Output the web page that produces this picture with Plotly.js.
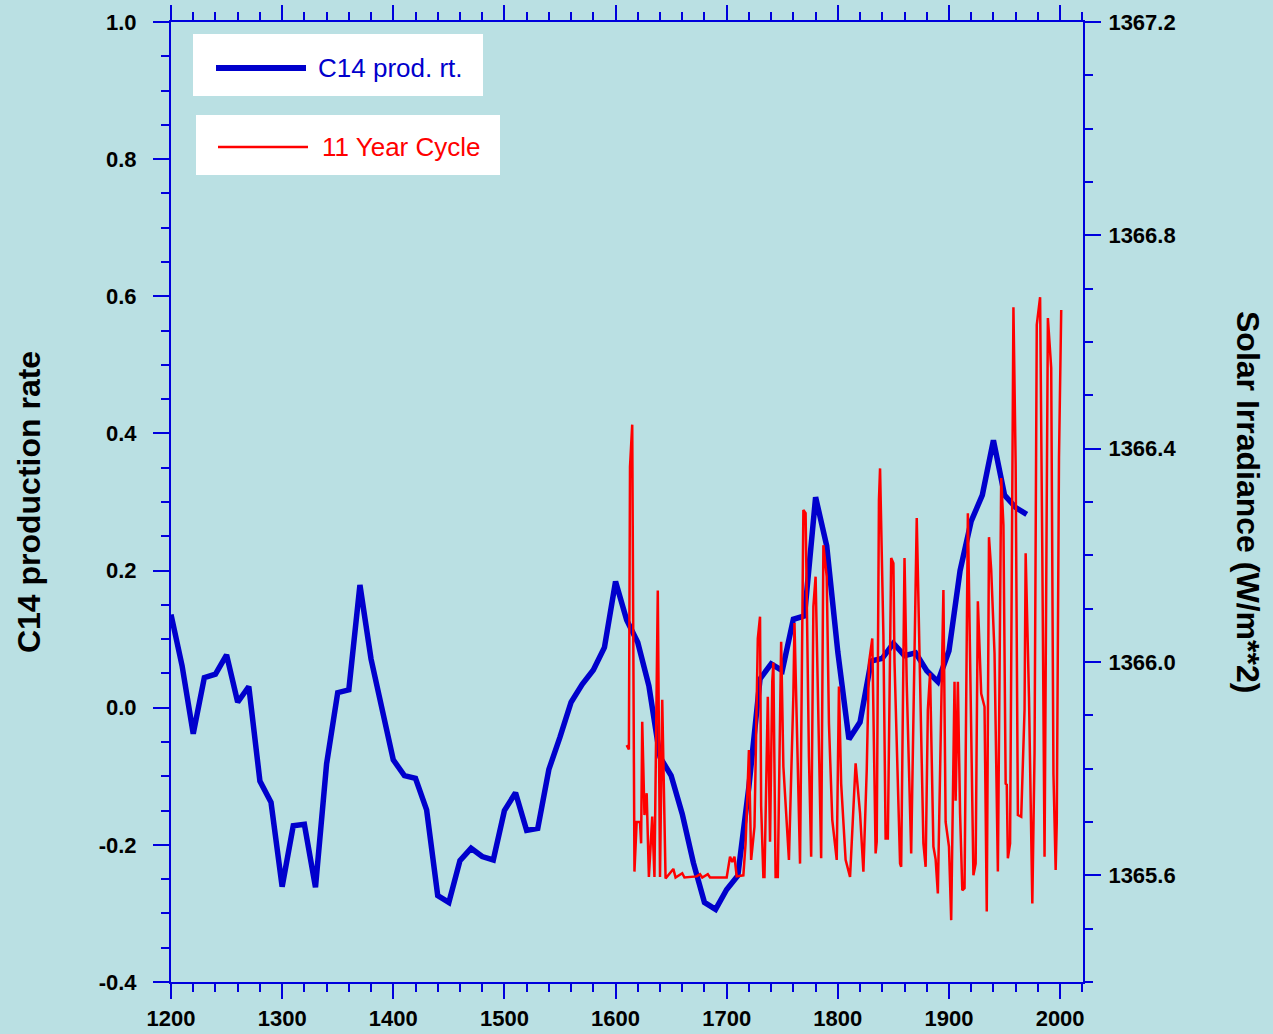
<!DOCTYPE html>
<html>
<head>
<meta charset="utf-8">
<script src="https://cdn.plot.ly/plotly-3.0.1.min.js"></script>
<style>
  html, body { margin: 0; padding: 0; background: #BAE0E3; }
  #chart { width: 1273px; height: 1034px; }
</style>
</head>
<body>
<div id="chart"></div>
<script>
// ---- Data ----
const c14Years = [1200,1210,1220,1230,1240,1250,1260,1270,1280,1290,
  1300,1310,1320,1330,1340,1350,1360,1370,1380,1390,
  1400,1410,1420,1430,1440,1450,1460,1470,1480,1490,
  1500,1510,1520,1530,1540,1550,1560,1570,1580,1590,
  1600,1610,1620,1630,1640,1650,1660,1670,1680,1690,
  1700,1710,1720,1730,1740,1750,1760,1770,1780,1790,
  1800,1810,1820,1830,1840,1850,1860,1870,1880,1890,
  1900,1910,1920,1930,1940,1950,1960,1970];
const c14Values = [0.136,0.061,-0.038,0.044,0.049,0.077,0.008,0.031,-0.107,-0.138,
  -0.261,-0.172,-0.170,-0.262,-0.082,0.022,0.026,0.179,0.071,-0.007,
  -0.076,-0.099,-0.103,-0.149,-0.274,-0.284,-0.223,-0.205,-0.217,-0.222,
  -0.150,-0.124,-0.179,-0.176,-0.090,-0.043,0.008,0.034,0.055,0.088,
  0.184,0.128,0.095,0.032,-0.072,-0.099,-0.155,-0.226,-0.284,-0.294,
  -0.265,-0.245,-0.115,0.042,0.064,0.054,0.129,0.134,0.307,0.236,
  0.081,-0.046,-0.021,0.068,0.072,0.094,0.076,0.080,0.054,0.038,
  0.083,0.200,0.272,0.310,0.390,0.310,0.292,0.282];

const irrYears = [1610,1612,1613,1615,1617,1619,1622,1623,1624,1626,
  1628,1630,1633,1635,1638,1640,1642,1644,1645,1652,
  1654,1660,1662,1673,1676,1678,1683,1685,1700,1703,
  1705,1707,1709,1715,1717,1718,1720,1722,1725,1728,
  1730,1731,1733,1734,1737,1739,1741,1742,1744,1746,
  1749,1751,1756,1760,1761,1766,1769,1771,1774,1776,
  1778,1780,1785,1787,1790,1792,1795,1799,1801,1803,
  1807,1811,1816,1820,1823,1826,1828,1831,1834,1835,
  1837,1838,1840,1841,1843,1845,1848,1850,1851,1856,
  1857,1860,1862,1866,1871,1877,1879,1881,1883,1886,
  1888,1890,1895,1897,1900,1902,1905,1906,1908,1910,
  1912,1914,1917,1920,1922,1924,1926,1929,1932,1934,
  1936,1938,1941,1944,1947,1949,1951,1952,1953,1955,
  1958,1960,1962,1965,1968,1969,1971,1972,1975,1977,
  1979,1982,1984,1985,1986,1989,1992,1994,1996,1997,
  1999,2001];
const irrValues = [1365.844,1365.836,1366.366,1366.445,1365.607,1365.700,1365.700,1365.660,1365.888,1365.713,
  1365.754,1365.597,1365.710,1365.597,1366.134,1365.597,1365.929,1365.679,1365.594,1365.612,
  1365.596,1365.604,1365.596,1365.598,1365.602,1365.596,1365.602,1365.596,1365.596,1365.635,
  1365.625,1365.635,1365.598,1365.600,1365.660,1365.716,1365.835,1365.629,1365.691,1366.044,
  1366.085,1365.730,1365.597,1365.597,1365.935,1365.663,1365.963,1365.999,1365.597,1365.597,
  1366.038,1365.804,1365.629,1365.938,1366.073,1365.622,1366.285,1366.279,1365.822,1365.635,
  1366.104,1366.160,1365.632,1366.219,1366.160,1365.885,1365.704,1365.629,1365.954,1365.772,
  1365.629,1365.597,1365.810,1365.716,1365.607,1365.797,1365.998,1366.044,1365.641,1365.663,
  1366.304,1366.363,1366.135,1366.050,1365.669,1365.669,1366.195,1366.185,1366.000,1365.622,
  1365.616,1366.195,1365.960,1365.641,1366.270,1365.660,1365.616,1365.910,1365.979,1365.654,
  1365.630,1365.566,1366.135,1365.700,1365.654,1365.516,1365.963,1365.740,1365.963,1365.716,
  1365.572,1365.576,1366.279,1365.848,1365.600,1365.622,1366.114,1365.941,1365.916,1365.532,
  1366.234,1366.173,1366.016,1365.607,1366.345,1366.257,1365.772,1365.770,1365.632,1365.660,
  1366.665,1366.370,1365.713,1365.710,1365.910,1366.204,1366.050,1365.935,1365.547,1365.829,
  1366.632,1366.684,1366.200,1365.810,1365.635,1366.645,1366.551,1365.791,1365.610,1365.700,
  1366.383,1366.660];

const leftTickVals = [-0.4,-0.2,0.0,0.2,0.4,0.6,0.8,1.0];
const leftTickText = ['-0.4','-0.2','0.0','0.2','0.4','0.6','0.8','1.0'];
const rightTickVals = [1365.6,1366.0,1366.4,1366.8,1367.2];
const rightTickText = ['1365.6','1366.0','1366.4','1366.8','1367.2'];
const seriesNames = ['C14 prod. rt.','11 Year Cycle'];

// ---- Styles ----
const BG = '#BAE0E3';
const AXIS = '#0000DD';
const BLUE = '#0000CC';
const RED = '#FF0000';
const FONT = 'Liberation Sans, Arial, Helvetica, sans-serif';

const traces = [
  { x: c14Years, y: c14Values, name: seriesNames[0], type: 'scatter', mode: 'lines',
    yaxis: 'y', line: { color: BLUE, width: 5.5 } },
  { x: irrYears, y: irrValues, name: seriesNames[1], type: 'scatter', mode: 'lines',
    yaxis: 'y2', line: { color: RED, width: 2.5 } }
];

const tickFont = { family: FONT, size: 22, color: '#000', weight: 'bold' };

function px2x(px) { return (px - 171) / 912; }
function px2y(py) { return (982 - py) / 960; }

const layout = {
  width: 1273, height: 1034,
  paper_bgcolor: BG, plot_bgcolor: BG,
  margin: { l: 171, r: 190, t: 22, b: 52, pad: 0 },
  showlegend: false,
  font: { family: FONT, color: '#000' },
  xaxis: {
    range: [1200, 2020.6], tick0: 1200, dtick: 100,
    ticks: 'outside', ticklen: 15, tickwidth: 2, tickcolor: AXIS,
    showline: true, linecolor: AXIS, linewidth: 2, mirror: 'ticks',
    showgrid: false, zeroline: false,
    minor: { dtick: 20, tick0: 1200, ticks: 'outside', ticklen: 8, tickwidth: 2, tickcolor: AXIS, showgrid: false },
    tickfont: tickFont, ticklabelstandoff: 1
  },
  yaxis: {
    range: [-0.4, 1.0], tickmode: 'array', tickvals: leftTickVals, ticktext: leftTickText,
    ticks: 'outside', ticklen: 16, tickwidth: 2, tickcolor: AXIS,
    showline: true, linecolor: AXIS, linewidth: 2,
    showgrid: false, zeroline: false,
    minor: { dtick: 0.05, tick0: 0, ticks: 'outside', ticklen: 8, tickwidth: 2, tickcolor: AXIS, showgrid: false },
    tickfont: tickFont, ticklabelstandoff: 12,
    title: { text: 'C14 production rate', font: { family: FONT, size: 32, color: '#000', weight: 'bold' }, standoff: 48 }
  },
  yaxis2: {
    overlaying: 'y', side: 'right',
    range: [1365.4, 1367.2], tickmode: 'array', tickvals: rightTickVals, ticktext: rightTickText,
    ticks: 'outside', ticklen: 16, tickwidth: 2, tickcolor: AXIS,
    showline: true, linecolor: AXIS, linewidth: 2,
    showgrid: false, zeroline: false,
    minor: { dtick: 0.1, tick0: 1365.4, ticks: 'outside', ticklen: 8, tickwidth: 2, tickcolor: AXIS, showgrid: false },
    tickfont: tickFont, ticklabelstandoff: 3
  },
  shapes: [
    { type: 'rect', xref: 'paper', yref: 'paper', x0: px2x(193), x1: px2x(483), y0: px2y(96), y1: px2y(34),
      fillcolor: '#FFFFFF', line: { width: 0 }, layer: 'above' },
    { type: 'rect', xref: 'paper', yref: 'paper', x0: px2x(196), x1: px2x(500), y0: px2y(175), y1: px2y(115),
      fillcolor: '#FFFFFF', line: { width: 0 }, layer: 'above' },
    { type: 'line', xref: 'paper', yref: 'paper', x0: px2x(216), x1: px2x(306), y0: px2y(68), y1: px2y(68),
      line: { color: BLUE, width: 6 }, layer: 'above' },
    { type: 'line', xref: 'paper', yref: 'paper', x0: px2x(218), x1: px2x(308), y0: px2y(147), y1: px2y(147),
      line: { color: RED, width: 2.5 }, layer: 'above' }
  ],
  annotations: [
    { xref: 'paper', yref: 'paper', x: px2x(316), y: px2y(68), xanchor: 'left', yanchor: 'middle',
      text: seriesNames[0], showarrow: false, font: { family: FONT, size: 26, color: BLUE } },
    { xref: 'paper', yref: 'paper', x: px2x(320), y: px2y(147), xanchor: 'left', yanchor: 'middle',
      text: seriesNames[1], showarrow: false, font: { family: FONT, size: 26, color: RED } },
    { xref: 'paper', yref: 'paper', x: px2x(1248), y: 0.5, xanchor: 'center', yanchor: 'middle',
      textangle: 90, text: 'Solar Irradiance (W/m**2)', showarrow: false,
      font: { family: FONT, size: 32, color: '#000', weight: 'bold' } }
  ]
};

Plotly.newPlot('chart', traces, layout, { displayModeBar: false, staticPlot: true });
</script>
</body>
</html>
